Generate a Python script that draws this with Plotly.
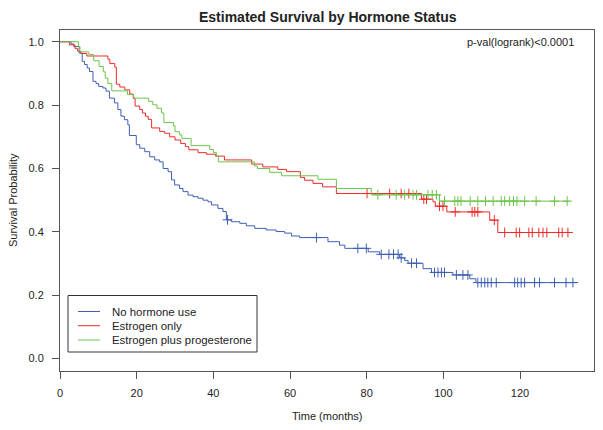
import numpy as np
import plotly.graph_objects as go

# ---------------- data ----------------
group_names = ["No hormone use", "Estrogen only", "Estrogen plus progesterone"]

# No hormone use: event times and survival after each event
none_times = [2.9, 3.6, 5.0, 5.8, 6.4, 7.1, 7.7, 8.6, 9.4, 10.1, 11.2, 12.0, 12.9, 14.2,
              15.1, 15.9, 16.8, 17.7, 18.1, 19.9, 20.8, 22.1, 23.4, 24.7, 26.0, 26.9,
              28.2, 29.1, 29.9, 31.2, 32.1, 33.4, 34.7, 36.0, 37.3, 38.6, 39.5, 41.2,
              42.5, 43.4, 44.7, 46.9, 48.6, 50.8, 53.8, 56.4, 58.6, 60.4, 62.5, 69.9,
              72.9, 74.3, 80.4, 83.4, 88.6, 89.9, 90.8, 94.7, 96.9, 102.5, 106.9, 108.5]
none_surv = [0.993, 0.985, 0.964, 0.938, 0.928, 0.917, 0.906, 0.875, 0.868, 0.859, 0.854,
             0.844, 0.822, 0.807, 0.786, 0.765, 0.754, 0.738, 0.704, 0.675, 0.664, 0.653,
             0.637, 0.627, 0.621, 0.600, 0.590, 0.564, 0.548, 0.537, 0.527, 0.516, 0.511,
             0.506, 0.500, 0.495, 0.485, 0.474, 0.464, 0.438, 0.432, 0.427, 0.419, 0.411,
             0.406, 0.401, 0.396, 0.387, 0.382, 0.369, 0.358, 0.348, 0.337, 0.329, 0.318,
             0.310, 0.301, 0.284, 0.272, 0.264, 0.252, 0.240]
none_censor = [43.7, 66.9, 77.7, 79.9, 83.8, 85.8, 87.0, 88.2, 89.0, 91.7, 93.0, 97.7,
               98.6, 99.5, 100.3, 103.4, 105.1, 106.4, 109.0, 109.9, 110.8, 111.6, 112.5,
               113.8, 118.6, 119.4, 120.3, 121.2, 123.8, 125.1, 129.0, 132.0, 133.8]
none_end = 135.1

# Estrogen only
est_times = [2.5, 3.9, 4.6, 5.4, 7.0, 12.5, 13.0, 14.3, 14.7, 15.6, 16.9, 18.2, 19.1,
             19.6, 20.8, 21.5, 22.3, 23.0, 23.9, 26.0, 27.3, 28.6, 30.0, 31.5, 32.7,
             33.6, 36.0, 38.2, 40.6, 42.9, 50.0, 52.9, 56.8, 59.1, 62.7, 63.8, 66.0,
             68.5, 72.1, 94.3, 97.3, 97.9, 100.9, 112.1, 114.2]
est_surv = [0.990, 0.979, 0.970, 0.963, 0.955, 0.945, 0.931, 0.920, 0.866, 0.857, 0.848,
            0.835, 0.821, 0.797, 0.786, 0.775, 0.765, 0.755, 0.728, 0.717, 0.711, 0.700,
            0.690, 0.679, 0.669, 0.659, 0.650, 0.645, 0.639, 0.627, 0.614, 0.605, 0.597,
            0.590, 0.572, 0.563, 0.553, 0.542, 0.521, 0.503, 0.495, 0.481, 0.463, 0.437,
            0.398]
est_censor = [80.1, 86.0, 89.0, 91.0, 94.9, 95.6, 99.0, 99.9, 103.1, 107.5, 108.2, 109.0,
              113.3, 116.0, 119.0, 119.9, 122.3, 123.2, 124.9, 126.0, 127.0, 130.1,
              131.0, 132.5]
est_end = 132.9

# Estrogen plus progesterone
ep_times = [4.8, 5.2, 7.5, 8.8, 10.2, 11.3, 11.8, 12.5, 13.5, 17.6, 19.2, 23.1, 24.2,
            25.3, 26.5, 27.1, 29.6, 30.0, 31.2, 31.8, 34.2, 39.1, 40.0, 40.8, 41.3,
            50.7, 51.5, 54.7, 57.8, 67.3, 72.1, 81.2, 99.0]
ep_surv = [0.985, 0.968, 0.960, 0.940, 0.922, 0.905, 0.885, 0.868, 0.845, 0.833, 0.822,
           0.812, 0.801, 0.790, 0.775, 0.745, 0.735, 0.716, 0.706, 0.695, 0.672, 0.660,
           0.650, 0.640, 0.621, 0.608, 0.600, 0.588, 0.577, 0.566, 0.537, 0.517, 0.497]
ep_censor = [82.9, 87.7, 89.9, 92.1, 93.0, 96.0, 97.1, 98.2, 100.3, 103.0, 103.8, 104.6,
             107.0, 109.0, 111.0, 113.0, 115.1, 116.0, 117.3, 118.3, 119.2, 121.2, 124.2,
             129.0, 132.3]
ep_end = 132.9

x_ticks = [0, 20, 40, 60, 80, 100, 120]
y_ticks = [0.0, 0.2, 0.4, 0.6, 0.8, 1.0]
title_text = "Estimated Survival by Hormone Status"
pval_text = "p-val(logrank)<0.0001"
x_title = "Time (months)"
y_title = "Survival Probability"

colors = ["#3F5FB4", "#F22A2A", "#6DC44A"]

groups = [
    (none_times, none_surv, none_censor, none_end),
    (est_times, est_surv, est_censor, est_end),
    (ep_times, ep_surv, ep_censor, ep_end),
]


def surv_at(times, surv, t):
    idx = np.searchsorted(np.asarray(times), t, side="right")
    return 1.0 if idx == 0 else surv[idx - 1]


# The page body has an 8px margin, so the figure is sized / offset to compensate.
OFF = 8
W, H = 603 - OFF, 430 - OFF
ML, MT = 60 - OFF, 30 - OFF
MR = W - (594 - OFF)
MB = H - (371 - OFF)
PW, PH = W - ML - MR, H - MT - MB


def px_to_paper(px, py):
    """Reference-window pixel position -> paper coordinates."""
    fx, fy = px - OFF, py - OFF
    return (fx - ML) / PW, (H - MB - fy) / PH


fig = go.Figure()
FONT = "Liberation Sans, Arial, sans-serif"
TXT = "#222222"

for (times, surv, cens, end), name, col in zip(groups, group_names, colors):
    xs = [0.0] + list(times) + [end]
    ys = [1.0] + list(surv) + [surv[-1]]
    fig.add_trace(go.Scatter(x=xs, y=ys, mode="lines", line=dict(color=col, width=1, shape="hv"),
                             name=name, showlegend=False))
    cy = [surv_at(times, surv, c) for c in cens]
    fig.add_trace(go.Scatter(x=cens, y=cy, mode="markers", showlegend=False, name=name,
                             marker=dict(symbol="cross-thin", size=7,
                                         line=dict(color=col, width=1), color=col)))

# p-value text
fig.add_annotation(x=134.5, y=1.0, xref="x", yref="y", text=pval_text, showarrow=False,
                   xanchor="right", yanchor="middle", font=dict(size=11, color=TXT, family=FONT))

# axis titles
xt_x, xt_y = px_to_paper(327, 416)
fig.add_annotation(x=xt_x, y=xt_y, xref="paper", yref="paper", text=x_title, showarrow=False,
                   xanchor="center", yanchor="middle", font=dict(size=11, color=TXT, family=FONT))
yt_x, yt_y = px_to_paper(13, 200)
fig.add_annotation(x=yt_x, y=yt_y, xref="paper", yref="paper", text=y_title, showarrow=False,
                   textangle=-90, xanchor="center", yanchor="middle",
                   font=dict(size=11, color=TXT, family=FONT))

# title (top-anchored at the top edge of the figure so nothing is clipped)
tt_x, tt_y = px_to_paper(328, OFF)
fig.add_annotation(x=tt_x, y=tt_y, xref="paper", yref="paper", text="<b>" + title_text + "</b>",
                   showarrow=False, xanchor="center", yanchor="top", borderpad=0,
                   font=dict(size=14, color=TXT, family=FONT))

# legend (drawn as box + sample lines + labels)
lx0, ly0 = px_to_paper(68, 352)
lx1, ly1 = px_to_paper(257, 295.5)
fig.add_shape(type="rect", xref="paper", yref="paper", x0=lx0, y0=ly0, x1=lx1, y1=ly1,
              line=dict(color="#333333", width=1), fillcolor="white", layer="above")
row_y = [311.5, 325.7, 340.0]
for name, col, ry in zip(group_names, colors, row_y):
    sx0, sy = px_to_paper(78, ry)
    sx1, _ = px_to_paper(100, ry)
    fig.add_shape(type="line", xref="paper", yref="paper", x0=sx0, x1=sx1, y0=sy, y1=sy,
                  line=dict(color=col, width=1), layer="above")
    tx, _ = px_to_paper(110, ry)
    fig.add_annotation(x=tx, y=sy, xref="paper", yref="paper", text=name, showarrow=False,
                       xanchor="left", yanchor="middle",
                       font=dict(size=11.4, color=TXT, family=FONT))

axis_common = dict(showline=True, linecolor="#555555", linewidth=1, mirror=True, ticks="outside",
                   ticklen=7, tickcolor="#555555", showgrid=False, zeroline=False,
                   automargin=False, tickfont=dict(size=11, color=TXT, family=FONT))

fig.update_layout(
    width=W, height=H,
    margin=dict(l=ML, r=MR, t=MT, b=MB, autoexpand=False),
    paper_bgcolor="white", plot_bgcolor="white",
    font=dict(family=FONT, color=TXT),
    showlegend=False,
    xaxis=dict(range=[0, 139.3], tickvals=x_ticks, ticktext=[str(v) for v in x_ticks],
               ticklabelstandoff=5, **axis_common),
    yaxis=dict(range=[-0.039, 1.037], tickvals=y_ticks, ticktext=["%.1f" % v for v in y_ticks],
               ticklabelstandoff=6, **axis_common),
)

fig.write_html("out.html")
